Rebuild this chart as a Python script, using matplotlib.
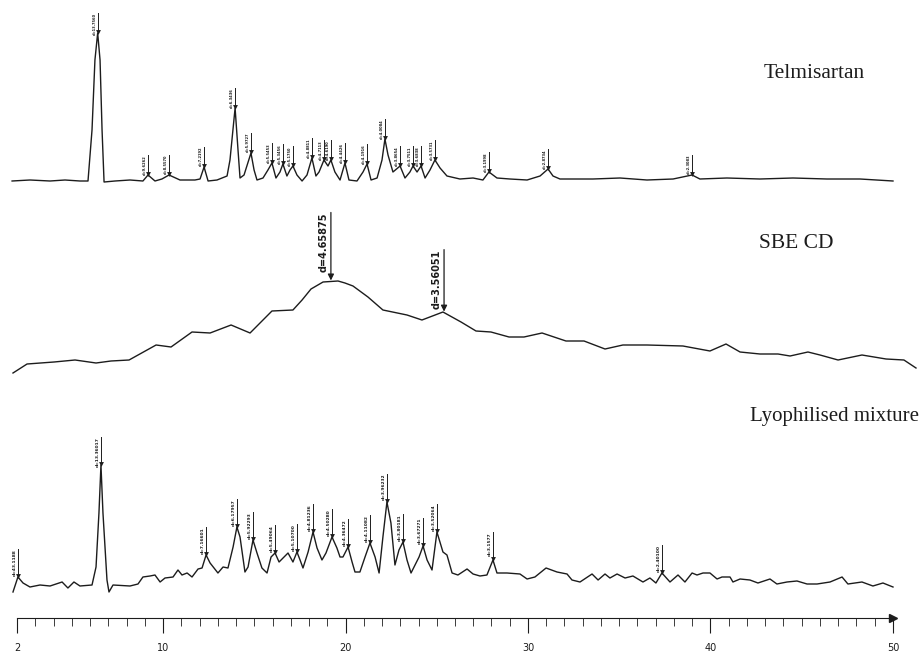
import numpy as np
import matplotlib
matplotlib.use("Agg")
import matplotlib.pyplot as plt

# 2-theta (deg) and intensity above each trace's own baseline
tel_2t = [1.73, 2.71, 3.81, 4.63, 5.45, 5.89, 6.11, 6.27, 6.42, 6.55,
          6.66, 6.77, 7.37, 8.19, 8.90, 9.18, 9.56, 9.94, 10.33, 10.93,
          11.75, 12.03, 12.25, 12.47, 12.96, 13.51, 13.67, 13.95, 14.11, 14.22,
          14.44, 14.82, 14.99, 15.15, 15.48, 15.75, 15.97, 16.19, 16.41, 16.57,
          16.79, 16.96, 17.12, 17.34, 17.62, 17.89, 18.16, 18.38, 18.55, 18.82,
          19.04, 19.20, 19.42, 19.70, 19.97, 20.19, 20.63, 20.96, 21.18, 21.40,
          21.73, 22.00, 22.16, 22.33, 22.60, 22.99, 23.26, 23.53, 23.70, 23.92,
          24.14, 24.36, 24.63, 24.90, 25.18, 25.56, 26.27, 26.99, 27.53, 27.86,
          28.30, 29.01, 29.95, 30.66, 31.10, 31.37, 31.75, 33.56, 35.04, 36.52,
          37.95, 38.99, 39.42, 40.90, 42.71, 44.52, 46.38, 48.19, 50.00]
tel_i = [0, 1, 0, 1, 0, 0, 51, 121, 148, 121,
         51, -1, 0, 1, 0, 6, 0, 2, 6, 1,
         1, 2, 14, 0, 1, 5, 21, 73, 31, 3,
         6, 28, 11, 1, 3, 11, 18, 3, 9, 17,
         5, 11, 15, 6, 0, 6, 23, 5, 9, 21,
         15, 21, 9, 1, 18, 1, 0, 9, 17, 1,
         3, 21, 42, 26, 9, 15, 3, 9, 15, 9,
         15, 3, 11, 21, 13, 5, 2, 3, 1, 9,
         3, 2, 1, 5, 12, 5, 2, 2, 3, 1,
         2, 6, 2, 3, 2, 3, 2, 2, 0]
tel_peaks = [6.42, 9.18, 10.33, 12.25, 13.95, 14.82, 15.97, 16.57, 17.12, 18.16, 18.82,
             19.20, 19.97, 21.18, 22.16, 22.99, 23.70, 24.14, 24.90, 27.86, 31.10, 38.99]
tel_d = ["d=13.7560", "d=9.6262", "d=8.5570", "d=7.2192", "d=6.3436", "d=5.9727",
         "d=5.5453", "d=5.3456", "d=5.1750", "d=4.8811", "d=4.7113", "d=4.6190",
         "d=4.4426", "d=4.1916", "d=4.0084", "d=3.8654", "d=3.7511", "d=3.6838",
         "d=3.5731", "d=3.1998", "d=2.8734", "d=2.3083"]

sbe_2t = [1.78, 2.55, 4.03, 5.18, 6.33, 7.15, 8.14, 9.62, 10.44, 11.59,
          12.58, 13.73, 14.77, 15.97, 17.12, 17.62, 18.11, 18.77, 19.59, 19.97,
          20.41, 21.23, 22.05,
          23.37, 24.19, 25.34, 26.33, 27.15, 27.97, 28.96, 29.78, 30.77, 32.08,
          33.07, 34.22, 35.20, 36.52, 38.49, 39.97, 40.85, 41.62, 42.71, 43.70,
          44.36, 45.34, 46.00, 46.99, 48.30, 49.62, 50.60, 51.26]
sbe_i = [2, 11, 13, 15, 12, 14, 15, 30, 28, 43,
         42, 50, 42, 64, 65, 75, 86, 93, 94, 92,
         89, 78, 65,
         60, 55, 63, 53, 44, 43, 38, 38, 42, 34,
         34, 26, 30, 30, 29, 24, 31, 23, 21, 21,
         19, 23, 20, 15, 20, 16, 15, 7]
sbe_arrows = [19.2, 25.4]
sbe_d = ["d=4.65875", "d=3.56051"]

lyo_2t = [1.78, 2.05, 2.33, 2.71, 3.26, 3.81, 4.47, 4.79, 5.12, 5.45,
          6.11, 6.33, 6.49, 6.60, 6.71, 6.93, 7.04, 7.26, 8.19, 8.63,
          8.90, 9.29, 9.56, 9.84, 10.11, 10.55, 10.82, 11.04, 11.32, 11.59,
          11.92, 12.14, 12.36, 12.58, 13.01, 13.29, 13.56, 13.84, 14.05, 14.22,
          14.49, 14.66, 14.93, 15.15, 15.42, 15.70, 15.92, 16.14, 16.36, 16.58,
          16.85, 17.12, 17.34, 17.51, 17.67, 17.95, 18.22, 18.44, 18.71, 18.93,
          19.26, 19.53, 19.70, 19.86, 20.14, 20.36, 20.52, 20.79, 21.07, 21.34,
          21.62, 21.84, 22.05, 22.27, 22.49, 22.71, 22.93, 23.15, 23.37, 23.59,
          23.81, 24.03, 24.25, 24.47, 24.74, 25.01, 25.34, 25.56, 25.84, 26.16,
          26.66, 26.99, 27.37, 27.75, 28.08, 28.30, 28.85, 29.56, 29.95, 30.38,
          30.99, 31.59, 32.14, 32.41, 32.85, 33.51, 33.84, 34.22, 34.49, 34.88,
          35.32, 35.75, 36.30, 36.68, 37.01, 37.34, 37.78, 38.22, 38.60, 38.99,
          39.26, 39.59, 39.97, 40.36, 40.63, 41.07, 41.23, 41.62, 42.16, 42.60,
          43.26, 43.64, 44.19, 44.74, 45.29, 45.84, 46.55, 47.21, 47.53, 48.30,
          48.90, 49.45, 50.00]
lyo_i = [0, 15, 9, 5, 7, 6, 10, 4, 10, 6,
         7, 25, 79, 127, 79, 12, 0, 7, 6, 8,
         15, 16, 17, 10, 14, 15, 22, 17, 19, 15,
         23, 24, 37, 29, 19, 25, 24, 45, 65, 55,
         20, 25, 52, 39, 24, 19, 35, 39, 30, 34,
         39, 30, 40, 32, 24, 40, 60, 44, 32, 39,
         55, 44, 35, 35, 45, 30, 20, 20, 35, 49,
         35, 19, 55, 90, 69, 27, 42, 50, 32, 19,
         27, 35, 46, 32, 22, 60, 40, 37, 19, 17,
         23, 18, 16, 17, 32, 19, 19, 18, 13, 15,
         24, 20, 18, 12, 10, 18, 12, 18, 14, 18,
         14, 16, 10, 14, 9, 19, 10, 17, 10, 19,
         17, 19, 19, 13, 15, 15, 10, 13, 12, 9,
         13, 8, 10, 11, 8, 8, 10, 15, 8, 10,
         6, 9, 5]
lyo_peaks = [2.05, 6.60, 12.36, 14.05, 14.93, 16.14, 17.34, 18.22, 19.26, 20.14,
             21.34, 22.27, 23.15, 24.25, 25.01, 28.08, 37.34]
lyo_d = ["d=43.1188", "d=13.36017", "d=7.16601", "d=6.17957", "d=5.92293",
         "d=5.49064", "d=5.10700", "d=4.81236", "d=4.50280", "d=4.36472",
         "d=4.11082", "d=3.96232", "d=3.80181", "d=3.67271", "d=3.52064",
         "d=3.1577", "d=2.40100"]

ticks = [2, 10, 20, 30, 40, 50]

ink = "#1c1c1c"
fig = plt.figure(figsize=(9.2, 6.62), dpi=100)
ax = fig.add_axes([0, 0, 1, 1])
ax.set_xlim(1.068, 51.48)
ax.set_ylim(0, 662)


def trace(x, y, base):
    ax.plot(x, np.array(y) + base, color=ink, lw=1.0)


def markers(x, y, base, peaks, texts, stem, fs):
    tops = np.interp(peaks, x, y) + base
    for p, t, s in zip(peaks, tops, texts):
        ax.plot([p], [t + 1.5], marker="v", ms=3.5, color=ink, mew=0)
        ax.plot([p, p], [t, t + stem], color=ink, lw=0.7)
        ax.text(p - 0.07, t + stem, s, rotation=90, ha="right", va="top",
                fontsize=fs, fontweight="bold", color=ink)


trace(tel_2t, tel_i, 481)
markers(tel_2t, tel_i, 481, tel_peaks, tel_d, 20, 2.6)

trace(sbe_2t, sbe_i, 287)
for p, s, length in zip(sbe_arrows, sbe_d, [68, 62]):
    tip = np.interp(p, sbe_2t, sbe_i) + 287 + 1
    ax.annotate("", xy=(p, tip), xytext=(p, tip + length),
                arrowprops=dict(arrowstyle="-|>", color=ink, lw=0.9,
                                mutation_scale=9, shrinkA=0, shrinkB=0))
    ax.text(p - 0.12, tip + length, s, rotation=90, ha="right", va="top",
            fontsize=7, fontweight="bold", color=ink)

trace(lyo_2t, lyo_i, 70)
markers(lyo_2t, lyo_i, 70, lyo_peaks, lyo_d, 28, 3.2)

serif = ["Liberation Serif", "DejaVu Serif"]
ax.text(45.67, 588, "Telmisartan", family=serif, fontsize=15.5, ha="center", va="center", color=ink)
ax.text(44.68, 419, "SBE CD", family=serif, fontsize=15.5, ha="center", va="center", color=ink)
ax.text(46.77, 246, "Lyophilised mixture", family=serif, fontsize=15, ha="center", va="center", color=ink)

for side in ["top", "right", "left"]:
    ax.spines[side].set_visible(False)
ax.spines["bottom"].set_position(("data", 44))
ax.spines["bottom"].set_bounds(2, 50)
ax.spines["bottom"].set_color(ink)
ax.yaxis.set_visible(False)
ax.set_xticks(ticks)
ax.set_xticks(np.arange(2, 51), minor=True)
ax.set_xticklabels([str(t) for t in ticks], family=["Liberation Sans Narrow", "DejaVu Sans"])
ax.tick_params(axis="x", which="major", direction="out", length=11, width=0.8,
               labelsize=7, pad=7, colors=ink)
ax.tick_params(axis="x", which="minor", direction="out", length=6, width=0.6, colors=ink)
ax.plot([50], [44], marker=">", ms=6, color=ink, clip_on=False)

fig.savefig("out.png", dpi=100, facecolor="white")
